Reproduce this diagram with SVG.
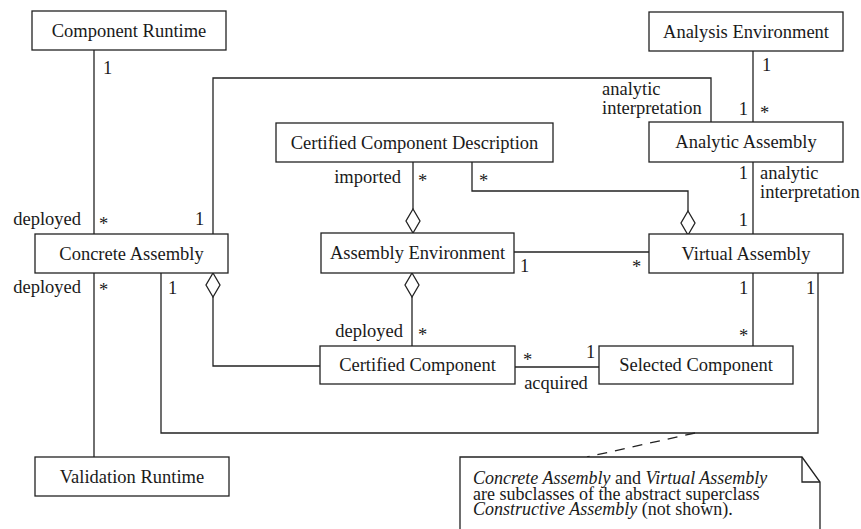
<svg xmlns="http://www.w3.org/2000/svg" width="861" height="529" viewBox="0 0 861 529">
  <style>
    .box { fill: #fff; stroke: #222; stroke-width: 1.3; }
    .line { fill: none; stroke: #222; stroke-width: 1.3; }
    .dash { fill: none; stroke: #222; stroke-width: 1.3; stroke-dasharray: 10 8; }
    .dia { fill: #fff; stroke: #222; stroke-width: 1.3; }
    text { font-family: 'Liberation Serif', 'DejaVu Serif', serif; font-size: 18.5px; fill: #1a1a1a; }
    .name { text-anchor: middle; }
    .end { text-anchor: end; }
    .it { font-style: italic; }
    .note { font-size: 18px; }
  </style>
  <defs>
    <!-- hollow aggregation diamond, top point at origin -->
    <path id="agg" d="M0,0 L7,12 L0,24 L-7,12 Z" class="dia"/>
  </defs>

  <g id="connectors">
    <!-- Component Runtime – Concrete Assembly -->
    <line class="line" x1="94" y1="50" x2="94" y2="234"/>
    <text x="103" y="74">1</text>
    <text class="end" x="81" y="225">deployed</text>
    <text x="99" y="230">*</text>

    <!-- Concrete Assembly – Analytic Assembly -->
    <polyline class="line" points="213,234 213,78 711,78 711,122"/>
    <text x="195" y="225">1</text>
    <text x="602" y="95">analytic<tspan x="602" dy="19">interpretation</tspan></text>
    <text class="end" x="748" y="115">1</text>

    <!-- Analysis Environment – Analytic Assembly -->
    <line class="line" x1="753" y1="51" x2="753" y2="122"/>
    <text x="762" y="71">1</text>
    <text x="760" y="119">*</text>

    <!-- Analytic Assembly – Virtual Assembly -->
    <line class="line" x1="753" y1="162" x2="753" y2="234"/>
    <text class="end" x="748" y="179">1</text>
    <text x="760" y="179">analytic<tspan x="760" dy="19">interpretation</tspan></text>
    <text class="end" x="748" y="226">1</text>

    <!-- Certified Component Description – Assembly Environment -->
    <line class="line" x1="413" y1="162" x2="413" y2="209"/>
    <use href="#agg" x="413" y="209"/>
    <text class="end" x="401" y="183">imported</text>
    <text x="418" y="187">*</text>

    <!-- Certified Component Description – Virtual Assembly -->
    <polyline class="line" points="472,162 472,191 688,191 688,211"/>
    <use href="#agg" x="688" y="211"/>
    <text x="479" y="187">*</text>

    <!-- Assembly Environment – Virtual Assembly -->
    <line class="line" x1="514" y1="252" x2="649" y2="252"/>
    <text x="520" y="272">1</text>
    <text x="632" y="273">*</text>

    <!-- Concrete Assembly – Validation Runtime -->
    <line class="line" x1="94" y1="273" x2="94" y2="457"/>
    <text class="end" x="81" y="293">deployed</text>
    <text x="99" y="296">*</text>

    <!-- Concrete Assembly – Virtual Assembly -->
    <polyline class="line" points="161,273 161,433 818,433 818,273"/>
    <text x="168" y="294">1</text>
    <text x="806" y="294">1</text>

    <!-- Concrete Assembly – Certified Component -->
    <use href="#agg" x="213" y="273"/>
    <polyline class="line" points="213,297 213,366 320,366"/>

    <!-- Assembly Environment – Certified Component -->
    <use href="#agg" x="412" y="273"/>
    <line class="line" x1="412" y1="297" x2="412" y2="346"/>
    <text class="end" x="403" y="337">deployed</text>
    <text x="418" y="341">*</text>

    <!-- Certified Component – Selected Component -->
    <line class="line" x1="515" y1="367" x2="599" y2="367"/>
    <text x="523" y="366">*</text>
    <text x="586" y="358">1</text>
    <text class="name" x="556" y="389">acquired</text>

    <!-- Virtual Assembly – Selected Component -->
    <line class="line" x1="753" y1="273" x2="753" y2="346"/>
    <text x="739" y="294">1</text>
    <text x="739" y="342">*</text>

    <!-- note anchor -->
    <line class="dash" x1="695" y1="433" x2="587" y2="457"/>
  </g>

  <g id="component-runtime">
    <rect class="box" x="32" y="11" width="194" height="39"/>
    <text class="name" x="129" y="37">Component Runtime</text>
  </g>
  <g id="concrete-assembly">
    <rect class="box" x="35" y="234" width="193" height="39"/>
    <text class="name" x="131.5" y="260">Concrete Assembly</text>
  </g>
  <g id="validation-runtime">
    <rect class="box" x="35" y="457" width="194" height="39"/>
    <text class="name" x="132" y="483">Validation Runtime</text>
  </g>
  <g id="certified-component-description">
    <rect class="box" x="276" y="123" width="277" height="39"/>
    <text class="name" x="414.5" y="149">Certified Component Description</text>
  </g>
  <g id="assembly-environment">
    <rect class="box" x="321" y="233" width="193" height="40"/>
    <text class="name" x="417.5" y="259">Assembly Environment</text>
  </g>
  <g id="certified-component">
    <rect class="box" x="320" y="346" width="195" height="38"/>
    <text class="name" x="417.5" y="371">Certified Component</text>
  </g>
  <g id="selected-component">
    <rect class="box" x="599" y="346" width="194" height="38"/>
    <text class="name" x="696" y="371">Selected Component</text>
  </g>
  <g id="analysis-environment">
    <rect class="box" x="649" y="12" width="194" height="39"/>
    <text class="name" x="746" y="38">Analysis Environment</text>
  </g>
  <g id="analytic-assembly">
    <rect class="box" x="649" y="122" width="194" height="40"/>
    <text class="name" x="746" y="148">Analytic Assembly</text>
  </g>
  <g id="virtual-assembly">
    <rect class="box" x="649" y="234" width="194" height="39"/>
    <text class="name" x="746" y="260">Virtual Assembly</text>
  </g>

  <g id="note">
    <path class="box" d="M460,530 V457 H802 L820,482 V530"/>
    <path class="line" d="M802,457 V482 H820"/>
    <text class="note" x="473" y="484"><tspan class="it">Concrete Assembly</tspan> and <tspan class="it">Virtual Assembly</tspan><tspan x="473" dy="15.5">are subclasses of the abstract superclass</tspan><tspan x="473" dy="15.5"><tspan class="it">Constructive Assembly</tspan> (not shown).</tspan></text>
  </g>
</svg>
